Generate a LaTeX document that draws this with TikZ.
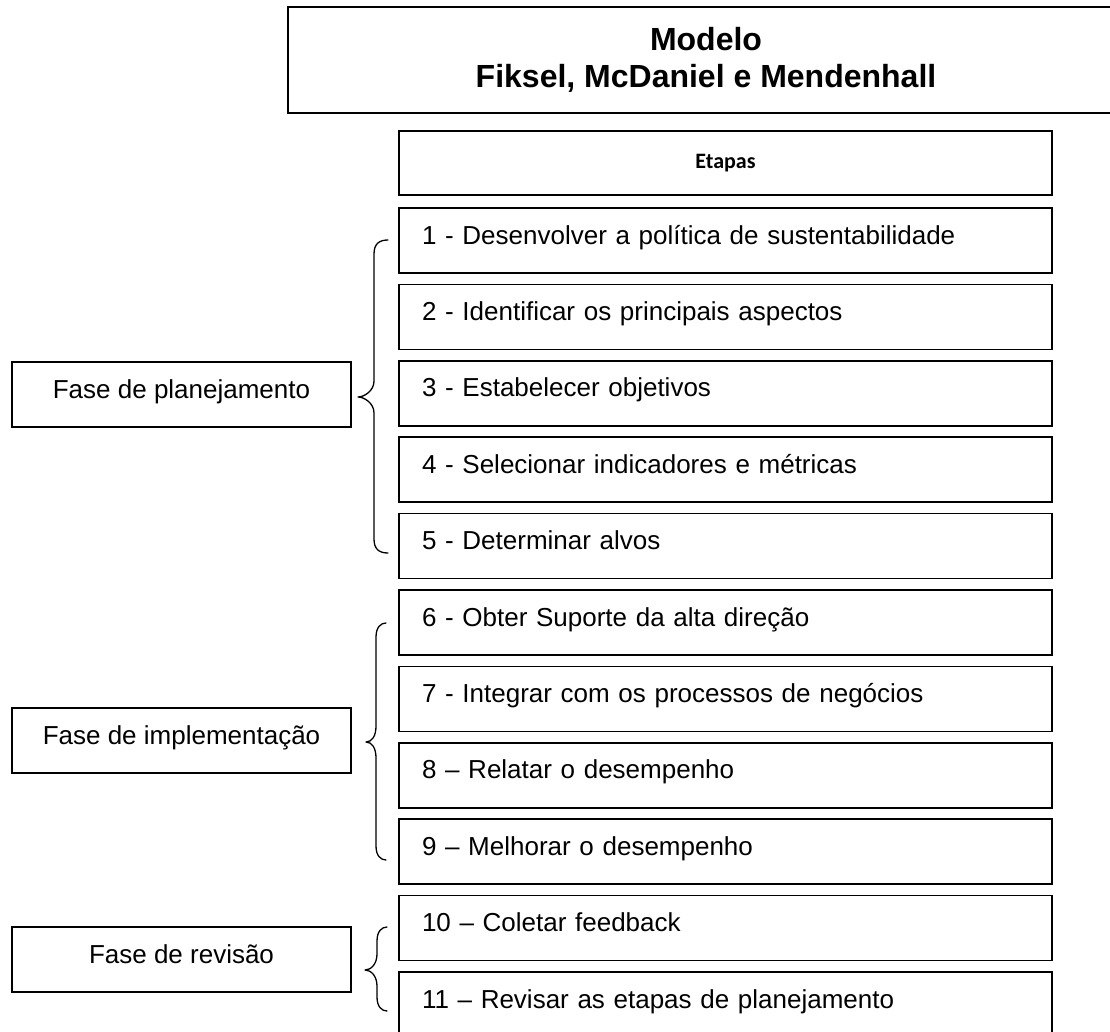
\documentclass[tikz,border=0pt]{standalone}
\usepackage{fontspec}
\setmainfont{Liberation Sans}
\newfontfamily\carlito{Carlito}
% curly brace: #1 end x, #2 spine x, #3 tip x, #4 top y, #5 tip y, #6 bottom y
\newcommand\curlybrace[6]{%
  \draw[bracket] (#1,#4) .. controls (#2+5,#4) and (#2,#4+4) .. (#2,#4+14)
    -- (#2,#5-16) .. controls (#2,#5-6) and (#3+6,#5) .. (#3,#5)
    .. controls (#3+6,#5) and (#2,#5+6) .. (#2,#5+16)
    -- (#2,#6-14) .. controls (#2,#6-4) and (#2+5,#6) .. (#1,#6);}
\begin{document}
\begin{tikzpicture}[x=1pt,y=-1pt,
  box/.style={draw=black, line width=1.5pt, inner sep=0pt, outer sep=0pt},
  stepbox/.style={box, anchor=north west, minimum width=653pt, minimum height=65pt,
    inner xsep=23pt, text width=607pt, align=left, text height=36pt, text depth=29pt,
    font=\fontsize{26}{30}\selectfont},
  phasebox/.style={box, anchor=north west, minimum width=339pt, minimum height=65pt,
    align=center, text height=36pt, text depth=29pt, font=\fontsize{26}{30}\selectfont},
  bracket/.style={line width=1.3pt, line join=round, line cap=round}
]
\useasboundingbox (0,0) rectangle (1110,1032);

% title
\node[box, anchor=north west, minimum width=836pt, minimum height=106pt, align=center,
  font=\fontsize{32}{37}\selectfont\bfseries] (title) at (288,7)
  {Modelo\\Fiksel, McDaniel e Mendenhall};

% column header
\node[box, anchor=north west, minimum width=653pt, minimum height=64pt,
  font=\carlito\bfseries\fontsize{22}{26}\selectfont] (etapas) at (399,131) {Etapas};

% steps
\foreach \i/\t in {
  1/{1 - Desenvolver a política de sustentabilidade},
  2/{2 - Identificar os principais aspectos},
  3/{3 - Estabelecer objetivos},
  4/{4 - Selecionar indicadores e métricas},
  5/{5 - Determinar alvos},
  6/{6 - Obter Suporte da alta direção},
  7/{7 - Integrar com os processos de negócios},
  8/{8 – Relatar o desempenho},
  9/{9 – Melhorar o desempenho},
  10/{10 – Coletar feedback},
  11/{11 – Revisar as etapas de planejamento}}
  \node[stepbox] (s\i) at (399,{208+(\i-1)*76.4}) {\t};

% phases
\node[phasebox] (plan) at (12,362) {Fase de planejamento};
\node[phasebox] (impl) at (12,708) {Fase de implementação};
\node[phasebox] (rev)  at (12,927) {Fase de revisão};

% braces grouping the steps of each phase
\curlybrace{388}{374}{358}{240}{397}{553}
\curlybrace{386}{376}{366}{623}{742}{860}
\curlybrace{387}{377}{365}{927}{970}{1011}
\end{tikzpicture}
\end{document}
